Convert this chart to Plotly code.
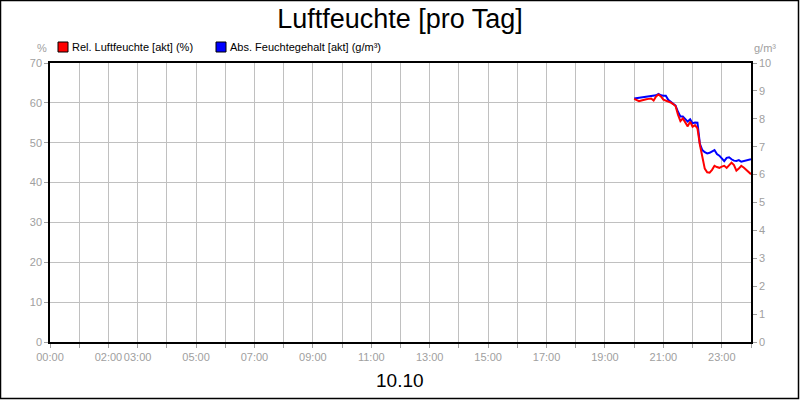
import plotly.graph_objects as go

# Messwerte 10.10, alle 5 Minuten ab 20:00
zeiten = ["20:00", "20:05", "20:10", "20:15", "20:20", "20:25", "20:30", "20:35", "20:40", "20:45",
          "20:50", "20:55", "21:00", "21:05", "21:10", "21:15", "21:20", "21:25", "21:30", "21:35",
          "21:40", "21:45", "21:50", "21:55", "22:00", "22:05", "22:10", "22:15", "22:20", "22:25",
          "22:30", "22:35", "22:40", "22:45", "22:50", "22:55", "23:00", "23:05", "23:10", "23:15",
          "23:20", "23:25", "23:30", "23:35", "23:40", "23:45", "23:50", "23:55", "24:00"]

rel_feuchte = [61.0, 60.6, 60.4, 60.6, 60.8, 60.9, 61.0, 61.1, 60.6, 61.6,
               62.1, 61.6, 60.8, 60.6, 60.3, 60.1, 59.7, 59.2, 57.0, 55.4,
               56.1, 55.2, 54.1, 55.3, 54.0, 54.4, 53.6, 49.5, 46.0, 43.5,
               42.6, 42.5, 43.2, 44.2, 43.9, 43.7, 44.0, 44.2, 43.7, 44.5,
               45.0, 44.4, 43.0, 43.5, 44.2, 43.8, 43.2, 42.6, 42.1]

abs_feuchte = [8.73, 8.74, 8.77, 8.77, 8.78, 8.79, 8.79, 8.80, 8.82, 8.84,
               8.89, 8.84, 8.83, 8.83, 8.68, 8.62, 8.55, 8.47, 8.25, 8.08,
               8.08, 7.98, 7.90, 7.98, 7.84, 7.87, 7.86, 7.10, 6.88, 6.80,
               6.76, 6.78, 6.84, 6.88, 6.74, 6.68, 6.58, 6.48, 6.60, 6.62,
               6.55, 6.50, 6.49, 6.52, 6.46, 6.48, 6.50, 6.52, 6.55]

x_beschriftet = [0, 2, 3, 5, 7, 9, 11, 13, 15, 17, 19, 21, 23]

NAME_REL = "Rel. Luftfeuchte [akt] (%)"
NAME_ABS = "Abs. Feuchtegehalt [akt] (g/m³)"

GRAU = "#a0a0a0"
GRID = "#c0c0c0"
FONT = "Liberation Sans, Arial, sans-serif"

W, H = 800, 400
M = dict(l=50, r=49, t=63, b=58)
pw = W - M["l"] - M["r"]
ph = H - M["t"] - M["b"]


def stunden(t):
    h, m = t.split(":")
    return int(h) + int(m) / 60


x = [stunden(t) for t in zeiten]

fig = go.Figure()
# blau auf der rechten Achse zuerst, rot liegt oben
fig.add_trace(go.Scatter(x=x, y=abs_feuchte, name=NAME_ABS, mode="lines",
                         line=dict(color="#0000ff", width=2), yaxis="y"))
fig.add_trace(go.Scatter(x=x, y=rel_feuchte, name=NAME_REL, mode="lines",
                         line=dict(color="#ff0000", width=2), yaxis="y2"))

stunden_alle = list(range(0, 25))
tick_text = [f"{h:02d}:00" if h in x_beschriftet else "" for h in stunden_alle]

achse = dict(zeroline=False, showline=True, linecolor="black", linewidth=1.5,
             ticks="outside", ticklen=4, tickcolor=GRAU, automargin=False,
             tickfont=dict(family=FONT, size=11, color=GRAU))

fig.update_layout(
    width=W, height=H, margin=M, autosize=False,
    paper_bgcolor="white", plot_bgcolor="white",
    showlegend=False,
    font=dict(family=FONT, size=11, color=GRAU),
    title=dict(text="Luftfeuchte [pro Tag]", x=0.5, xanchor="center", y=0.953, yanchor="middle",
               font=dict(family=FONT, size=27, color="black")),
    xaxis=dict(range=[0, 24], tickmode="array", tickvals=stunden_alle, ticktext=tick_text,
               tickangle=0, showgrid=True, gridcolor=GRID, gridwidth=1, mirror=True, **achse),
    yaxis=dict(range=[0, 10], dtick=1, side="right", showgrid=False, **achse),
    yaxis2=dict(range=[0, 70], dtick=10, side="left", overlaying="y",
                showgrid=True, gridcolor=GRID, gridwidth=1, **achse),
)

# Legende von Hand: Quadrate + Text
legende = [(NAME_REL, "#ff0000", 58), (NAME_ABS, "#0000ff", 216)]
for name, farbe, px_links in legende:
    x0 = (px_links - M["l"]) / pw
    x1 = (px_links + 10 - M["l"]) / pw
    y0 = (H - M["b"] - 52) / ph
    y1 = (H - M["b"] - 42) / ph
    fig.add_shape(type="rect", xref="paper", yref="paper", x0=x0, x1=x1, y0=y0, y1=y1,
                  fillcolor=farbe, line=dict(color="black", width=1))
    fig.add_annotation(text=name, xref="paper", yref="paper",
                       x=(px_links + 12 - M["l"]) / pw, y=(y0 + y1) / 2,
                       xanchor="left", yanchor="middle", showarrow=False,
                       font=dict(family=FONT, size=11, color="black"))

# Achsen-Einheiten
fig.add_annotation(text="%", xref="paper", yref="paper", x=(42 - M["l"]) / pw,
                   y=(H - M["b"] - 48) / ph, xanchor="center", yanchor="middle",
                   showarrow=False, font=dict(family=FONT, size=11, color=GRAU))
fig.add_annotation(text="g/m³", xref="paper", yref="paper", x=(765 - M["l"]) / pw,
                   y=(H - M["b"] - 48) / ph, xanchor="center", yanchor="middle",
                   showarrow=False, font=dict(family=FONT, size=11, color=GRAU))

# Datum unten
fig.add_annotation(text="10.10", xref="paper", yref="paper", x=(400 - M["l"]) / pw,
                   y=(H - M["b"] - 380) / ph, xanchor="center", yanchor="middle",
                   showarrow=False, font=dict(family=FONT, size=19, color="black"))

# Rahmen um das ganze Bild
fig.add_shape(type="rect", xref="paper", yref="paper",
              x0=(0.5 - M["l"]) / pw, x1=(W - 1.5 - M["l"]) / pw,
              y0=(H - M["b"] - 398.5) / ph, y1=(H - M["b"] - 0.5) / ph,
              line=dict(color="black", width=1.5), layer="above")

# Browser-Rand weg, damit das Bild bei 0,0 anfaengt
fig.write_html("out.html", config={"displayModeBar": False},
               post_script="document.body.style.margin='0';")
